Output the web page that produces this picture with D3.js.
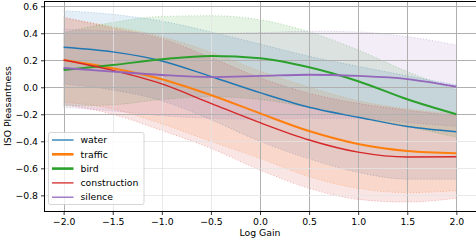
<!DOCTYPE html>
<html>
<head>
<meta charset="utf-8">
<script src="https://cdn.jsdelivr.net/npm/d3@7"></script>
<style>
  body { margin: 0; background: #fff; }
  text { font-family: "DejaVu Sans", sans-serif; }
</style>
</head>
<body>
<div id="chart"></div>
<script>
// log gain sample points
const gains = [-2.0, -1.5, -1.0, -0.5, 0.0, 0.5, 1.0, 1.5, 2.0]

const categories = ["water", "traffic", "bird", "construction", "silence"]
const colors = ["#1f77b4", "#ff7f0e", "#2ca02c", "#d62728", "#9467bd"]
const widths = [1.4, 2, 2, 1.4, 1.8]
const legendWidths = [1.3, 2.6, 2.6, 1.3, 1.3]

// mean ISO pleasantness
const waterMean = [0.296, 0.262, 0.195, 0.08, -0.04, -0.148, -0.222, -0.29, -0.329]
const trafficMean = [0.202, 0.141, 0.06, -0.057, -0.193, -0.324, -0.42, -0.472, -0.489]
const birdMean = [0.128, 0.165, 0.207, 0.232, 0.215, 0.148, 0.045, -0.089, -0.2]
const constructionMean = [0.202, 0.125, 0.025, -0.119, -0.262, -0.39, -0.48, -0.516, -0.514]
const silenceMean = [0.143, 0.116, 0.091, 0.076, 0.084, 0.093, 0.084, 0.061, 0.004]

// upper / lower band
const waterUpper = [0.567, 0.54, 0.49, 0.41, 0.32, 0.23, 0.155, 0.085, 0.017]
const waterLower = [0.024, -0.02, -0.1, -0.24, -0.4, -0.53, -0.63, -0.68, -0.68]
const trafficUpper = [0.51, 0.45, 0.375, 0.26, 0.12, 0.0, -0.1, -0.16, -0.195]
const trafficLower = [-0.11, -0.16, -0.27, -0.4, -0.526, -0.662, -0.748, -0.78, -0.766]
const birdUpper = [0.404, 0.48, 0.525, 0.53, 0.5, 0.41, 0.276, 0.116, -0.02]
const birdLower = [-0.139, -0.13, -0.09, -0.07, -0.09, -0.15, -0.22, -0.29, -0.37]
const constructionUpper = [0.52, 0.44, 0.36, 0.22, 0.07, -0.044, -0.119, -0.17, -0.21]
const constructionLower = [-0.125, -0.2, -0.32, -0.452, -0.613, -0.748, -0.83, -0.85, -0.822]
const silenceUpper = [0.43, 0.415, 0.4, 0.4, 0.405, 0.415, 0.41, 0.375, 0.313]
const silenceLower = [-0.148, -0.175, -0.21, -0.23, -0.235, -0.23, -0.23, -0.26, -0.29]

const xTicks = [-2.0, -1.5, -1.0, -0.5, 0.0, 0.5, 1.0, 1.5, 2.0]
const yTicks = [-0.8, -0.6, -0.4, -0.2, 0.0, 0.2, 0.4, 0.6]
const darkX = [-2.0, 0.0, 0.5, 1.0, 1.5, 2.0]
const darkY = [-0.2, 0.0, 0.2, 0.4, 0.6]

const means = [waterMean, trafficMean, birdMean, constructionMean, silenceMean]
const uppers = [waterUpper, trafficUpper, birdUpper, constructionUpper, silenceUpper]
const lowers = [waterLower, trafficLower, birdLower, constructionLower, silenceLower]

const W = 476, H = 242
const margin = {top: 1, right: 0, bottom: 31, left: 44}

const svg = d3.select("#chart").append("svg")
  .attr("width", W)
  .attr("height", H)

const x = d3.scaleLinear().domain([-2.2, 2.2]).range([margin.left, W - margin.right])
const y = d3.scaleLinear().domain([-0.916, 0.639]).range([H - margin.bottom, margin.top])

const fmt = (d) => d3.format(".1f")(d).replace("-", "\u2212")

const curve = d3.curveMonotoneX

const area = d3.area()
  .x((d) => x(d[0]))
  .y0((d) => y(d[1]))
  .y1((d) => y(d[2]))
  .curve(curve)

const line = d3.line()
  .x((d) => x(d[0]))
  .y((d) => y(d[1]))
  .curve(curve)

const plot = svg.append("g")

//bands
categories.forEach((c, i) => {
  const band = gains.map((g, j) => [g, lowers[i][j], uppers[i][j]])
  plot.append("path")
    .datum(band)
    .attr("d", area)
    .attr("fill", colors[i])
    .attr("fill-opacity", 0.12)
  const edges = [gains.map((g, j) => [g, uppers[i][j]]), gains.map((g, j) => [g, lowers[i][j]])]
  edges.forEach((e) => {
    plot.append("path")
      .datum(e)
      .attr("d", line)
      .attr("fill", "none")
      .attr("stroke", colors[i])
      .attr("stroke-opacity", 0.35)
      .attr("stroke-width", 1)
      .attr("stroke-dasharray", "1,2")
  })
})

//grid (on top of the bands)
const grid = svg.append("g")
grid.selectAll(".gx")
  .data(xTicks)
  .enter().append("line")
  .attr("x1", (d) => Math.round(x(d)) + 0.5)
  .attr("x2", (d) => Math.round(x(d)) + 0.5)
  .attr("y1", y.range()[1])
  .attr("y2", y.range()[0])
  .attr("stroke", (d) => darkX.includes(d) ? "#b0b0b0" : "#e4e4e4")
  .attr("stroke-opacity", (d) => darkX.includes(d) ? 1 : 0.8)
  .attr("stroke-width", 1)
grid.selectAll(".gy")
  .data(yTicks)
  .enter().append("line")
  .attr("x1", x.range()[0])
  .attr("x2", x.range()[1])
  .attr("y1", (d) => Math.round(y(d)) + 0.5)
  .attr("y2", (d) => Math.round(y(d)) + 0.5)
  .attr("stroke", (d) => darkY.includes(d) ? "#b0b0b0" : "#e4e4e4")
  .attr("stroke-opacity", (d) => darkY.includes(d) ? 1 : 0.8)
  .attr("stroke-width", 1)

//mean lines
const lines = svg.append("g")
categories.forEach((c, i) => {
  lines.append("path")
    .datum(gains.map((g, j) => [g, means[i][j]]))
    .attr("d", line)
    .attr("fill", "none")
    .attr("stroke", colors[i])
    .attr("stroke-width", widths[i])
})

//axes
const xAxis = d3.axisBottom(x).tickValues(xTicks).tickSize(3.5).tickPadding(3).tickFormat(fmt).tickSizeOuter(0)
const yAxis = d3.axisLeft(y).tickValues(yTicks).tickSize(3.5).tickPadding(3).tickFormat(fmt).tickSizeOuter(0)

const gx = svg.append("g")
  .attr("transform", "translate(0," + (y.range()[0] + 0.5) + ")")
  .call(xAxis)
const gy = svg.append("g")
  .attr("transform", "translate(" + (x.range()[0] + 0.5) + ",0)")
  .call(yAxis)

;[gx, gy].forEach((g) => {
  g.select(".domain").remove()
  g.selectAll("line").attr("stroke", "#000").attr("stroke-width", 0.8)
  g.selectAll("text").attr("font-size", "9.3px").attr("fill", "#000")
    .style("font-family", "DejaVu Sans")
})

// frame
svg.append("rect")
  .attr("x", x.range()[0] + 0.5)
  .attr("y", y.range()[1] + 0.5)
  .attr("width", x.range()[1] - x.range()[0] + 2)
  .attr("height", y.range()[0] - y.range()[1])
  .attr("fill", "none")
  .attr("stroke", "#000")
  .attr("stroke-width", 1)

//labels
svg.append("text")
  .attr("x", x(0))
  .attr("y", 236)
  .attr("text-anchor", "middle")
  .attr("font-size", "9.3px")
  .text("Log Gain")

svg.append("text")
  .attr("transform", "translate(11," + ((y.range()[0] + y.range()[1]) / 2) + ") rotate(-90)")
  .attr("text-anchor", "middle")
  .attr("font-size", "9.3px")
  .text("ISO Pleasantness")

//legend
const legend = svg.append("g").attr("transform", "translate(48.5,132.5)")
legend.append("rect")
  .attr("width", 95.5)
  .attr("height", 72)
  .attr("rx", 2)
  .attr("fill", "#fff")
  .attr("fill-opacity", 0.8)
  .attr("stroke", "#cccccc")
  .attr("stroke-width", 0.8)

categories.forEach((c, i) => {
  const ly = 7.5 + i * 14.3
  legend.append("line")
    .attr("x1", 3.5).attr("x2", 25)
    .attr("y1", ly).attr("y2", ly)
    .attr("stroke", colors[i])
    .attr("stroke-width", legendWidths[i])
  legend.append("text")
    .attr("x", 32)
    .attr("y", ly)
    .attr("dy", "0.35em")
    .attr("font-size", "9.3px")
    .text(c)
})
</script>
</body>
</html>
